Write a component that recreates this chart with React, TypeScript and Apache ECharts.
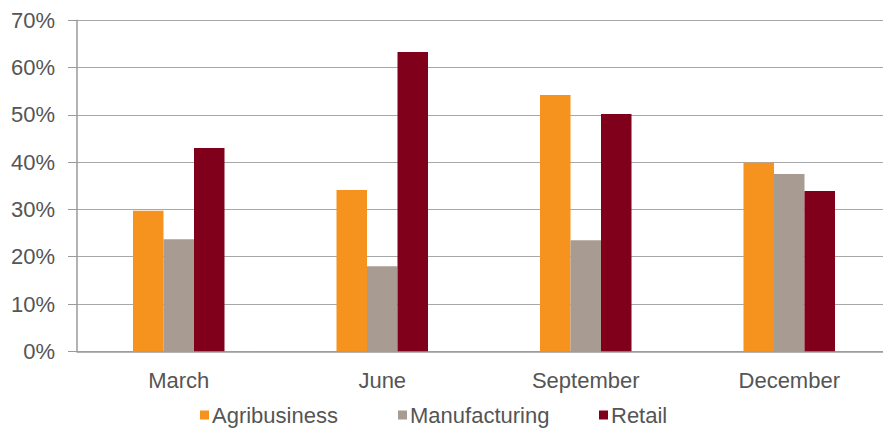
import React, { useEffect, useRef } from "react";
import * as echarts from "echarts";

const categories = ["March", "June", "September", "December"];
const agribusiness = [29.7, 34.1, 54.2, 39.9];
const manufacturing = [23.7, 18.0, 23.5, 37.5];
const retail = [43.0, 63.3, 50.2, 33.9];
const seriesNames = ["Agribusiness", "Manufacturing", "Retail"];
const colors = ["#F6921E", "#A89C92", "#80001C"];

const FONT = "'Liberation Sans', Arial, Helvetica, sans-serif";
const TEXT = "#555555";

export default function App() {
  const ref = useRef<HTMLDivElement>(null);
  useEffect(() => {
    if (!ref.current) return;
    const chart = echarts.init(ref.current, undefined, { renderer: "svg" });
    const legendPos = [200, 398, 599];
    chart.setOption({
      animation: false,
      textStyle: { fontFamily: FONT },
      grid: { left: 77, top: 20.3, width: 814, height: 331 },
      legend: seriesNames.map((n, i) => ({
        data: [n],
        left: legendPos[i],
        top: 403,
        padding: 0,
        itemWidth: 9,
        itemHeight: 9,
        icon: "rect",
        textStyle: { fontSize: 22, lineHeight: 24, color: TEXT, fontFamily: FONT, padding: [0, 0, 0, -2] },
      })),
      xAxis: {
        type: "category",
        data: categories,
        axisLine: { lineStyle: { color: "#9a9a9a", width: 1.5 } },
        axisTick: { length: 9, lineStyle: { color: "#9a9a9a" } },
        axisLabel: { fontSize: 22, color: TEXT, margin: 18, fontFamily: FONT },
      },
      yAxis: {
        type: "value",
        min: 0,
        max: 70,
        interval: 10,
        axisLine: { show: true, lineStyle: { color: "#9a9a9a", width: 1.5 } },
        axisTick: { show: true, length: 9, lineStyle: { color: "#9a9a9a" } },
        splitLine: { lineStyle: { color: "#a8a8a8", width: 1.2 } },
        axisLabel: { fontSize: 22, color: TEXT, margin: 22, formatter: "{value}%", fontFamily: FONT },
      },
      series: [agribusiness, manufacturing, retail].map((d, i) => ({
        name: seriesNames[i],
        type: "bar",
        data: d,
        barWidth: 30.5,
        barGap: "0%",
        itemStyle: { color: colors[i] },
      })),
    });
    return () => chart.dispose();
  }, []);
  return (
    <div
      style={{ position: "fixed", left: 0, top: 0, width: 883, height: 428, overflow: "hidden", background: "#fff" }}
    >
      <div ref={ref} style={{ width: 900, height: 428 }} />
    </div>
  );
}
